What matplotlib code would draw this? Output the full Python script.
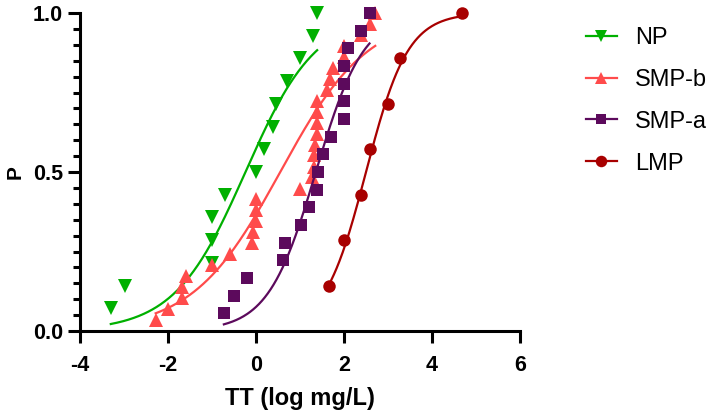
import numpy as np
import matplotlib
matplotlib.use('Agg')
import matplotlib.pyplot as plt
from matplotlib.ticker import MultipleLocator

plt.rcParams['font.family'] = ['Liberation Sans', 'DejaVu Sans']
plt.rcParams['axes.unicode_minus'] = False

# ==================== data ====================
np_x = [-3.30, -2.97, -0.99, -0.99, -0.99, -0.71, 0.01, 0.19, 0.39, 0.46,
        0.71, 0.99, 1.30, 1.39]
np_p = [0.071, 0.143, 0.214, 0.286, 0.357, 0.429, 0.500, 0.571, 0.643,
        0.714, 0.786, 0.857, 0.929, 1.000]

smpb_x = [-2.28, -1.99, -1.69, -1.69, -1.60, -0.99, -0.59, -0.10, -0.06,
          0.01, 0.01, 0.01, 0.99, 1.27, 1.31, 1.31, 1.33, 1.39, 1.39, 1.39,
          1.39, 1.61, 1.69, 1.76, 1.99, 2.01, 2.39, 2.60, 2.71]
smpb_p = [0.034, 0.069, 0.103, 0.138, 0.172, 0.207, 0.241, 0.276, 0.310,
          0.345, 0.379, 0.414, 0.448, 0.483, 0.517, 0.552, 0.586, 0.621,
          0.655, 0.690, 0.724, 0.759, 0.793, 0.828, 0.862, 0.897, 0.931,
          0.966, 1.000]

smpa_x = [-0.73, -0.50, -0.20, 0.62, 0.67, 1.02, 1.20, 1.39, 1.42, 1.52,
          1.71, 1.99, 1.99, 1.99, 1.99, 2.08, 2.39, 2.58]
smpa_p = [0.056, 0.111, 0.167, 0.222, 0.278, 0.333, 0.389, 0.444, 0.500,
          0.556, 0.611, 0.667, 0.722, 0.778, 0.833, 0.889, 0.944, 1.000]

lmp_x = [1.65, 1.99, 2.39, 2.60, 3.00, 3.28, 4.68]
lmp_p = [0.143, 0.286, 0.429, 0.571, 0.714, 0.857, 1.000]

# logistic fit parameters (midpoint, slope) estimated from the curves
fits = {
    'NP': (-0.24, 1.24),
    'SMP-b': (0.55, 1.00),
    'SMP-a': (1.36, 1.84),
    'LMP': (2.50, 2.10),
}

series = [
    ('NP', np_x, np_p, '#00B000', 'v', 9.4),
    ('SMP-b', smpb_x, smpb_p, '#FF4B4B', '^', 9.4),
    ('SMP-a', smpa_x, smpa_p, '#5C0A5C', 's', 8.0),
    ('LMP', lmp_x, lmp_p, '#A80000', 'o', 9.0),
]

# ==================== plot ====================
fig = plt.figure(figsize=(7.1, 4.19), dpi=100)
ax = fig.add_axes([80 / 710, 1 - 331 / 419, 440 / 710, 318 / 419])

handles = []
for name, xs, ps, color, marker, ms in series:
    x0, k = fits[name]
    xx = np.linspace(min(xs), max(xs), 200)
    yy = 1 / (1 + np.exp(-k * (xx - x0)))
    ax.plot(xx, yy, color=color, linewidth=1.6, clip_on=False)
    ax.plot(xs, ps, linestyle='none', marker=marker, color=color,
            markersize=ms, markeredgewidth=0, clip_on=False)
    h, = ax.plot([], [], color=color, linewidth=1.6, marker=marker,
                 markersize=ms * 0.92, markeredgewidth=0, label=name)
    handles.append(h)

ax.set_xlim(-4, 6)
ax.set_ylim(0, 1)
ax.set_xticks([-4, -2, 0, 2, 4, 6])
ax.set_yticks([0, 0.5, 1.0])
ax.set_yticklabels(['0.0', '0.5', '1.0'])
ax.yaxis.set_minor_locator(MultipleLocator(0.05))

for side in ['top', 'right']:
    ax.spines[side].set_visible(False)
for side in ['left', 'bottom']:
    ax.spines[side].set_linewidth(2.2)

ax.tick_params(which='major', length=8.6, width=2.2, labelsize=15.5)
ax.tick_params(axis='x', which='major', pad=9)
ax.tick_params(axis='y', which='major', pad=3.5)
ax.tick_params(axis='y', which='minor', length=5, width=2.2)
for lbl in ax.get_xticklabels() + ax.get_yticklabels():
    lbl.set_fontweight('bold')

ax.set_xlabel('TT (log mg/L)', fontsize=17, fontweight='bold', labelpad=7.5)
ax.set_ylabel('P', fontsize=15, fontweight='bold', labelpad=6)

fig.legend(handles=handles, loc='upper left',
           bbox_to_anchor=(586 / 710, 1 - 27 / 419),
           frameon=False, fontsize=17, handlelength=1.31, handletextpad=0.76,
           labelspacing=0.84, borderpad=0, borderaxespad=0)

fig.savefig('out.png', dpi=100)
